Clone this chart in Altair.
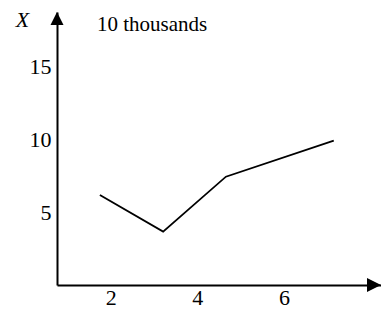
import altair as alt
import pandas as pd

# data
xs_vals = [1.75, 3.21, 4.66, 7.15]
ys_vals = [6.16, 3.66, 7.42, 9.89]
x_ticks = [2, 4, 6]
y_ticks = [5, 10, 15]
x_domain = [0.76, 8.24]
y_domain = [0, 18.7]
unit_label = ["10 thousands"]

FONT = "Times New Roman, Liberation Serif, Tinos, serif"

df = pd.DataFrame({"x": xs_vals, "y": ys_vals})
xscale = alt.Scale(domain=x_domain, nice=False, zero=False)
yscale = alt.Scale(domain=y_domain, nice=False, zero=False)

line = alt.Chart(df).mark_line(color="black", strokeWidth=1.8).encode(
    x=alt.X("x:Q", scale=xscale,
            axis=alt.Axis(values=x_ticks, title=None, grid=False, ticks=False,
                          domainColor="black", domainWidth=2,
                          labelFont=FONT, labelFontSize=22, labelColor="black",
                          labelBaseline="alphabetic", labelPadding=19)),
    y=alt.Y("y:Q", scale=yscale,
            axis=alt.Axis(values=y_ticks, title="X", titleAngle=0, titleX=-35, titleY=14,
                          titleAlign="center", titleBaseline="alphabetic",
                          titleFont=FONT, titleFontStyle="italic", titleFontWeight="normal",
                          titleFontSize=22, titleColor="black",
                          grid=False, ticks=False, domainColor="black", domainWidth=2,
                          labelFont=FONT, labelFontSize=22, labelColor="black",
                          labelPadding=6)),
)

arrow_x = alt.Chart(pd.DataFrame({"x": [x_domain[1]], "y": [y_domain[0]]})).mark_point(
    shape="M0,0L-2,-1L-2,1Z", size=196, filled=True, color="black", opacity=1, strokeWidth=0
).encode(x=alt.X("x:Q", scale=xscale), y=alt.Y("y:Q", scale=yscale))

arrow_y = alt.Chart(pd.DataFrame({"x": [x_domain[0]], "y": [y_domain[1]]})).mark_point(
    shape="M0,0L-1,2L1,2Z", size=169, filled=True, color="black", opacity=1, strokeWidth=0
).encode(x=alt.X("x:Q", scale=xscale), y=alt.Y("y:Q", scale=yscale))

unit = alt.Chart(pd.DataFrame({"t": unit_label, "x": [x_domain[0]], "y": [y_domain[1]]})).mark_text(
    align="left", baseline="alphabetic", dx=40, dy=19, font=FONT, fontSize=21, color="black"
).encode(x=alt.X("x:Q", scale=xscale), y=alt.Y("y:Q", scale=yscale), text="t:N")

chart = alt.layer(line, arrow_x, arrow_y, unit).properties(
    width=324, height=273,
    autosize=alt.AutoSizeParams(type="none"),
    padding={"left": 49, "top": 4, "right": 0, "bottom": 24},
).configure_view(stroke=None)

chart.save("out.html", embed_options={"renderer": "svg", "actions": False})
